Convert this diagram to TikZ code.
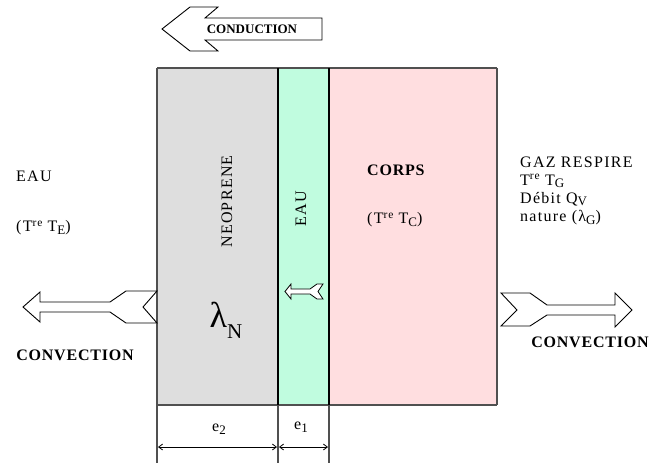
\documentclass[tikz,border=0pt]{standalone}
\usepackage{fontspec}
\setmainfont{Liberation Serif}
\usetikzlibrary{arrows.meta}
\definecolor{grayfill}{HTML}{DEDEDE}
\definecolor{greenfill}{HTML}{C0FCDF}
\definecolor{pinkfill}{HTML}{FFDEE0}
\definecolor{edgegray}{HTML}{505050}
\newcommand\mysub[1]{\raisebox{-0.35ex}{\fontsize{13}{13}\selectfont #1}}
\newcommand\mysup[1]{\raisebox{0.75ex}{\fontsize{11.5}{11.5}\selectfont #1}}
\begin{document}
\begin{tikzpicture}[x=1pt,y=-1pt,line join=miter,
  txt/.style={font=\fontsize{16}{18}\selectfont\addfontfeature{LetterSpace=8},inner sep=0pt,anchor=west},
  btxt/.style={font=\fontsize{16}{18}\selectfont\bfseries\addfontfeature{LetterSpace=5},inner sep=0pt},
  edge/.style={draw=edgegray,line width=1.2pt},
  sep/.style={draw=black,line width=2pt},
  arr/.style={draw=black,line width=0.9pt,fill=white},
  dim/.style={draw=black,line width=0.8pt,{Straight Barb[length=4pt,width=6pt]}-{Straight Barb[length=4pt,width=6pt]}}]
\useasboundingbox (0,0) rectangle (651,466);
% layers
\fill[grayfill] (157,68) rectangle (278,405);
\fill[greenfill] (278,68) rectangle (329,405);
\fill[pinkfill] (329,68) rectangle (497,405);
\draw[edge] (157,68) -- (497,68);
\draw[edge] (157,405) -- (497,405);
\draw[edge] (157,68) -- (157,463);
\draw[edge] (278,405) -- (278,463);
\draw[edge] (329,405) -- (329,463);
\draw[sep] (278,68) -- (278,405);
\draw[sep] (329,68) -- (329,405);
\draw[edge,line width=2pt] (497,68) -- (497,405);
% conduction arrow
\draw[arr] (162,29) -- (190,7) -- (218,7) -- (205,18) -- (322,18) -- (322,40) -- (205,40) -- (218,51) -- (190,51) -- cycle;
\node[font=\fontsize{13}{14}\selectfont\bfseries,inner sep=0pt] (cond) at (252,29) {CONDUCTION};
% convection arrows
\draw[arr] (23,307) -- (40,292) -- (40,302) -- (110,302) -- (126,291) -- (157,291) -- (143,307) -- (157,323) -- (126,323) -- (110,312) -- (40,312) -- (40,322) -- cycle;
\draw[arr] (501,293) -- (530,293) -- (547,305) -- (615,305) -- (615,293) -- (632,310) -- (615,327) -- (615,315) -- (547,315) -- (530,326) -- (501,326) -- (517,310) -- cycle;
\node[btxt] (convL) at (75,355) {CONVECTION};
\node[btxt] (convR) at (590,342) {CONVECTION};
% small arrow in water
\draw[arr,line width=0.8pt] (285,291.5) -- (291,284) -- (291,289) -- (310,289) -- (317,284) -- (323,284) -- (318,291.5) -- (323,299) -- (317,299) -- (310,294) -- (291,294) -- (291,299) -- cycle;
% texts
\node[txt] (eauL) at (16,176) {EAU};
\node[txt] (tE) at (16,228) {(T\mysup{re} T\mysub{E})};
\node[btxt,anchor=west] (corps) at (367,170) {CORPS};
\node[txt] (tC) at (367,220) {(T\mysup{re} T\mysub{C})};
\node[txt] (gaz) at (520,162) {GAZ RESPIRE};
\node[txt] (tG) at (520,181) {T\mysup{re} T\mysub{G}};
\node[txt] (deb) at (520,199) {Débit Q\mysub{V}};
\node[txt] (nat) at (520,218) {nature (λ\mysub{G})};
\node[txt,rotate=90] (neo) at (227,248) {NEOPRENE};
\node[txt,rotate=90] (eauV) at (301,227) {EAU};
\node[inner sep=0pt] (lamN) at (226,320) {\fontsize{36}{36}\selectfont λ\raisebox{-0.3em}{\fontsize{21}{21}\selectfont N}};
% dimensions
\coordinate (d2a) at (158,447);
\coordinate (d2b) at (277,447);
\coordinate (d1a) at (279,447);
\coordinate (d1b) at (328,447);
\draw[dim] (d2a) -- (d2b);
\draw[dim] (d1a) -- (d1b);
\node[txt,anchor=center] (e2) at (219,429) {e\mysub{2}};
\node[txt,anchor=center] (e1) at (301,427) {e\mysub{1}};
\end{tikzpicture}
\end{document}
